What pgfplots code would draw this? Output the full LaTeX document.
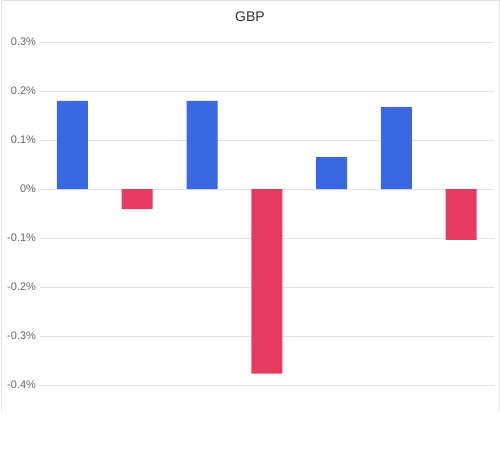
\documentclass[border=0pt]{standalone}
\usepackage{pgfplots}
\pgfplotsset{compat=1.18}
\usepackage{fontspec}
\setmainfont{Liberation Sans}
\definecolor{barblue}{RGB}{58,104,226}
\definecolor{barred}{RGB}{229,59,96}
\definecolor{gridc}{RGB}{226,226,226}
\definecolor{framec}{RGB}{222,226,230}
\definecolor{ticktext}{RGB}{102,102,102}
\definecolor{titletext}{RGB}{51,51,51}
\begin{document}
\begin{tikzpicture}
\useasboundingbox (0pt,0pt) rectangle (500pt,458pt);
\fill[white] (0pt,0pt) rectangle (500pt,458pt);
\draw[framec,line width=1pt] (1pt,47pt) -- (1pt,457.5pt) -- (499pt,457.5pt) -- (499pt,47pt);
\begin{axis}[
  at={(40pt,73pt)}, anchor=south west,
  scale only axis,
  width=453.6pt, height=343pt,
  xmin=-0.5, xmax=6.5,
  ymin=-0.4, ymax=0.3,
  axis line style={draw=none},
  xtick=\empty,
  ytick={-0.4,-0.3,-0.2,-0.1,0,0.1,0.2,0.3},
  yticklabels={-0.4\%,-0.3\%,-0.2\%,-0.1\%,0\%,0.1\%,0.2\%,0.3\%},
  major tick length=0pt,
  ymajorgrids,
  grid style={gridc,line width=0.8pt},
  yticklabel style={font=\fontsize{11}{13}\selectfont, text=ticktext, xshift=-0.5pt},
  /pgf/number format/assume math mode=true,
  title={GBP},
  title style={font=\fontsize{14}{16}\selectfont, text=titletext, at={(0.5,1)}, anchor=center, yshift=19pt, xshift=-16.8pt},
  ybar, bar width=31pt, bar shift=0pt,
  clip=false,
]
\addplot[fill=barblue, draw=none] coordinates {(0,0.180) (2,0.180) (4,0.065) (5,0.167)};
\addplot[fill=barred, draw=none] coordinates {(1,-0.041) (3,-0.377) (6,-0.104)};
\end{axis}
\end{tikzpicture}
\end{document}
